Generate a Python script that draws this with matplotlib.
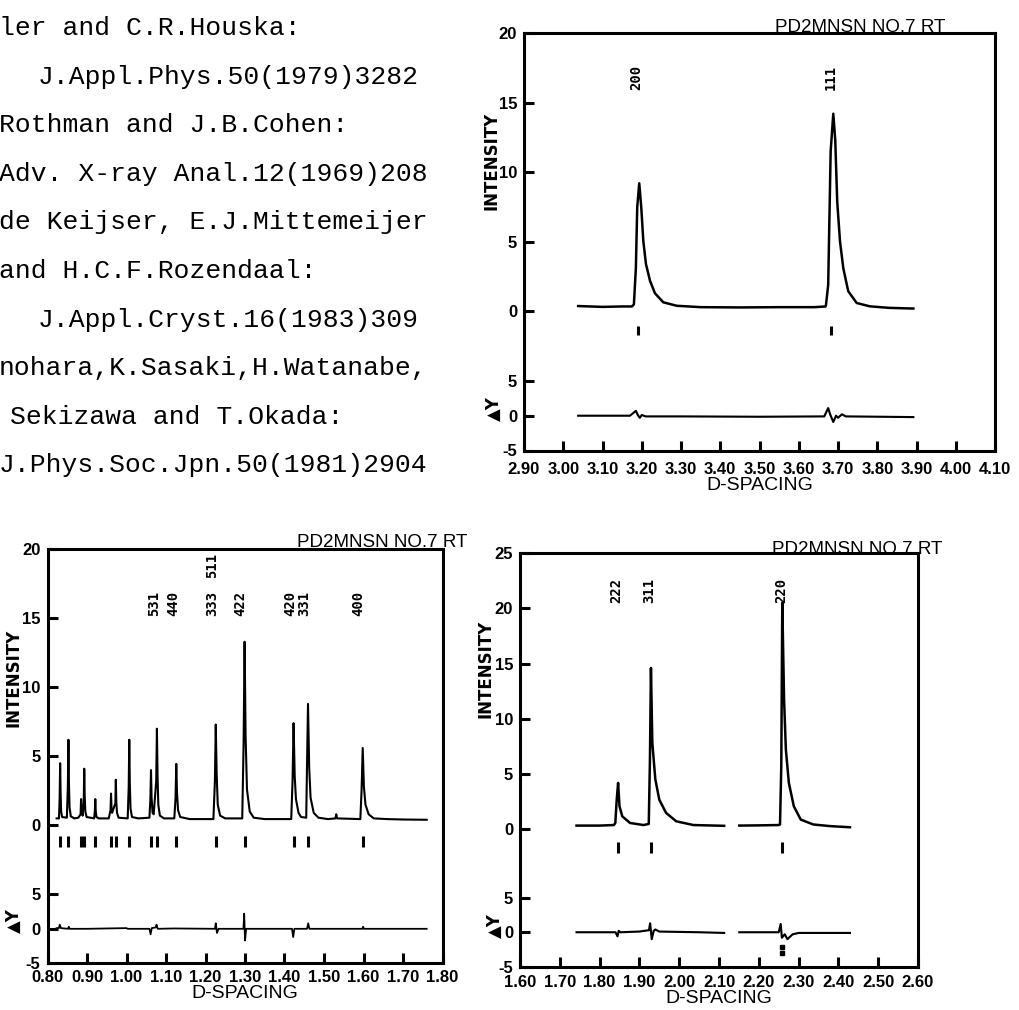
import matplotlib
matplotlib.use("Agg")
import matplotlib.pyplot as plt
from matplotlib import font_manager

# ---------------- data ----------------
ref_text = [
    "ler and C.R.Houska:",
    "J.Appl.Phys.50(1979)3282",
    "Rothman and J.B.Cohen:",
    "Adv. X-ray Anal.12(1969)208",
    "de Keijser, E.J.Mittemeijer",
    "and H.C.F.Rozendaal:",
    "J.Appl.Cryst.16(1983)309",
    "nohara,K.Sasaki,H.Watanabe,",
    "Sekizawa and T.Okada:",
    "J.Phys.Soc.Jpn.50(1981)2904",
]

title_text = "PD2MNSN NO.7 RT"

# --- panel A (top right): d 2.90-4.10 ---
a_xticks = [2.90, 3.00, 3.10, 3.20, 3.30, 3.40, 3.50, 3.60, 3.70, 3.80, 3.90, 4.00, 4.10]
a_obs = [(3.038, 0.38), (3.10, 0.32), (3.15, 0.35), (3.175, 0.35), (3.180, 0.5), (3.185, 3.1),
         (3.1885, 7.5), (3.1936, 9.2), (3.1987, 7.5), (3.204, 5.05), (3.2107, 3.4), (3.221, 2.2),
         (3.2336, 1.3), (3.2548, 0.65), (3.289, 0.4), (3.35, 0.3), (3.45, 0.28), (3.55, 0.3),
         (3.64, 0.3), (3.668, 0.35), (3.6694, 0.45), (3.675, 1.9), (3.6813, 11.5), (3.688, 14.2),
         (3.693, 12.3), (3.698, 7.9), (3.705, 5.05), (3.7135, 3.1), (3.726, 1.45), (3.7476, 0.6),
         (3.781, 0.36), (3.83, 0.25), (3.892, 0.2)]
a_diff = [(3.038, 0.0), (3.17, 0.0), (3.185, 0.7), (3.19, 0.1), (3.195, -0.3), (3.20, 0.1),
          (3.21, -0.1), (3.30, -0.1), (3.50, -0.15), (3.665, -0.1), (3.675, 1.1), (3.68, 0.2),
          (3.688, -0.9), (3.695, 0.0), (3.70, -0.3), (3.71, 0.2), (3.72, -0.1), (3.892, -0.2)]
a_refl = [3.1895, 3.682]
a_hkl = ["200", "111"]
a_hkl_x = [3.185, 3.681]
a_hkl_y = [16.8, 16.8]

# --- panel B (bottom left): d 0.80-1.80 ---
b_xticks = [0.80, 0.90, 1.00, 1.10, 1.20, 1.30, 1.40, 1.50, 1.60, 1.70, 1.80]
b_obs = [(0.823, 0.5), (0.829, 0.5), (0.8308, 2.0), (0.832, 4.5), (0.8332, 2.3), (0.8345, 1.0), (0.837, 0.6),
         (0.849, 0.55), (0.8515, 2.8), (0.853, 6.2), (0.8542, 3.2), (0.8558, 1.3), (0.859, 0.65),
         (0.868, 0.5), (0.878, 0.55), (0.8838, 0.8), (0.885, 1.9), (0.8862, 1.0), (0.889, 0.7),
         (0.8918, 1.8), (0.893, 4.1), (0.8942, 2.1), (0.8958, 1.0), (0.899, 0.6),
         (0.918, 0.5), (0.9198, 1.0), (0.921, 1.9), (0.9222, 1.0), (0.924, 0.6), (0.93, 0.5),
         (0.955, 0.5), (0.9596, 1.1), (0.9608, 2.3), (0.962, 1.3), (0.9635, 0.9), (0.9718, 1.6),
         (0.973, 3.3), (0.9742, 1.7), (0.976, 0.9), (0.98, 0.55),
         (1.003, 0.5), (1.0056, 2.8), (1.007, 6.2), (1.0084, 3.0), (1.0102, 1.2), (1.014, 0.6), (1.03, 0.5),
         (1.058, 0.55), (1.0605, 1.9), (1.062, 4.0), (1.0635, 2.0), (1.066, 0.9), (1.0688, 0.8),
         (1.0752, 3.2), (1.077, 7.0), (1.0786, 3.6), (1.0805, 1.5), (1.0845, 0.7), (1.095, 0.5),
         (1.121, 0.5), (1.1242, 2.0), (1.126, 4.45), (1.1278, 2.4), (1.1305, 1.1), (1.136, 0.6), (1.16, 0.45),
         (1.22, 0.45), (1.2238, 3.2), (1.226, 7.3), (1.2282, 3.8), (1.231, 1.5), (1.237, 0.7), (1.25, 0.5),
         (1.293, 0.5), (1.2965, 6.0), (1.299, 13.3), (1.3015, 6.5), (1.305, 2.6), (1.312, 1.0),
         (1.322, 0.55), (1.35, 0.45),
         (1.417, 0.45), (1.4205, 3.3), (1.423, 7.4), (1.4258, 3.6), (1.429, 1.9), (1.4355, 0.9), (1.442, 0.6),
         (1.455, 0.55), (1.4568, 4.0), (1.4595, 8.8), (1.4625, 4.2), (1.466, 2.0), (1.474, 0.9),
         (1.486, 0.55), (1.51, 0.45), (1.529, 0.5), (1.531, 0.8), (1.533, 0.5),
         (1.592, 0.45), (1.5952, 2.6), (1.598, 5.6), (1.601, 2.8), (1.605, 1.5), (1.613, 0.8),
         (1.626, 0.5), (1.66, 0.45), (1.70, 0.42), (1.76, 0.4)]
b_diff = [(0.823, 0.1), (0.829, 0.1), (0.831, 0.6), (0.834, 0.1), (0.852, 0.0), (0.854, 0.3),
          (0.856, 0.0), (0.90, 0.0), (0.95, 0.05), (1.00, 0.1), (1.003, 0.0), (1.058, 0.0),
          (1.061, -0.8), (1.064, 0.1), (1.074, 0.2), (1.076, 0.6), (1.079, 0.0), (1.12, 0.05),
          (1.224, 0.0), (1.226, 0.8), (1.229, -0.6), (1.233, 0.0), (1.296, 0.0), (1.298, 2.2),
          (1.300, -1.7), (1.303, 0.0), (1.419, 0.0), (1.422, -1.2), (1.425, 0.0), (1.457, 0.0),
          (1.460, 0.8), (1.463, 0.0), (1.52, 0.0), (1.597, 0.0), (1.599, 0.3), (1.601, 0.0),
          (1.70, 0.0), (1.76, 0.0)]
b_refl = [0.8324, 0.8527, 0.8848, 0.8932, 0.921, 0.9608, 0.9734, 1.0071, 1.062, 1.0772,
          1.126, 1.226, 1.299, 1.423, 1.4595, 1.598]
b_hkl = ["531", "440", "333", "511", "422", "420", "331", "400"]
b_hkl_x = [1.0686, 1.119, 1.2165, 1.2165, 1.288, 1.4147, 1.451, 1.586]
b_hkl_y = [16.05, 16.05, 16.05, 18.8, 16.05, 16.05, 16.05, 16.05]

# --- panel C (bottom right): d 1.60-2.60 ---
c_xticks = [1.60, 1.70, 1.80, 1.90, 2.00, 2.10, 2.20, 2.30, 2.40, 2.50, 2.60]
c_obs1 = [(1.742, 0.3), (1.80, 0.3), (1.836, 0.35), (1.8395, 0.54), (1.843, 2.65), (1.8465, 4.17),
          (1.850, 2.05), (1.857, 1.14), (1.8764, 0.54), (1.91, 0.35), (1.9235, 0.45), (1.9265, 6.3),
          (1.929, 14.6), (1.9325, 7.8), (1.940, 4.5), (1.950, 2.65), (1.967, 1.45), (1.9925, 0.69),
          (2.0355, 0.35), (2.113, 0.28)]
c_obs2 = [(2.151, 0.3), (2.20, 0.32), (2.25, 0.35), (2.2533, 0.4), (2.2565, 5.7), (2.259, 20.5),
          (2.2635, 11.7), (2.268, 7.2), (2.2755, 4.17), (2.288, 2.05), (2.3055, 0.84), (2.337, 0.4),
          (2.38, 0.25), (2.429, 0.15)]
c_diff1 = [(1.742, 0.0), (1.84, 0.0), (1.845, -0.6), (1.848, 0.2), (1.852, 0.0), (1.90, 0.1),
           (1.924, 0.3), (1.927, 1.3), (1.931, -1.0), (1.936, 0.2), (1.94, 0.4), (1.95, 0.1),
           (2.05, 0.0), (2.113, -0.1)]
c_diff2 = [(2.151, 0.0), (2.25, 0.0), (2.255, 1.2), (2.258, -0.8), (2.265, -0.3), (2.272, -1.0),
           (2.285, -0.3), (2.30, -0.1), (2.429, -0.1)]
c_diff_dots = [(2.259, -2.2), (2.259, -3.0)]
c_refl = [1.846, 1.929, 2.259]
c_hkl = ["222", "311", "220"]
c_hkl_x = [1.841, 1.924, 2.256]
c_hkl_y = [21.6, 21.6, 21.6]

# ---------------- styling ----------------
W, H = 1019, 1010
avail = {f.name for f in font_manager.fontManager.ttflist}
if "Liberation Sans Narrow" in avail:
    NARROW = "Liberation Sans Narrow"
elif "Liberation Sans" in avail:
    NARROW = "Liberation Sans"
else:
    NARROW = "DejaVu Sans"
MONO = "Liberation Mono" if "Liberation Mono" in avail else "DejaVu Sans Mono"

fig = plt.figure(figsize=(W / 100, H / 100), dpi=100)
fig.patch.set_facecolor("white")


def fx(px):
    return px / W


def fy(py):
    return 1 - py / H


# reference text block (top left)
text_x = [-1, 38, -1, -1, -1, -1, 38, -1, 10, -1]
for i, (line, x0) in enumerate(zip(ref_text, text_x)):
    fig.text(fx(x0), fy(35 + 48.6 * i), line, family=MONO, fontsize=19.0,
             ha="left", va="baseline", color="black")


def panel(rect, xlim, xticks, ymax, obs_list, diff_list, refl, hkl, hkl_x, hkl_y,
          refl_span, title_xy, int_xy, dy_xy, tickpad, lw=1.8, dots=None):
    ax = fig.add_axes(rect)
    ymin = -ymax / 2.0
    k = ymax / 40.0
    base = ymin + 5 * k
    ax.set_xlim(*xlim)
    ax.set_ylim(ymin, ymax)
    for obs in obs_list:
        d, v = zip(*obs)
        ax.plot(d, v, color="black", lw=lw, solid_joinstyle="round")
    for diff in diff_list:
        d, v = zip(*diff)
        ax.plot(d, [base + k * t for t in v], color="black", lw=lw * 0.85,
                solid_joinstyle="round")
    if dots:
        d, v = zip(*dots)
        ax.plot(d, [base + k * t for t in v], ls="none", marker="s", ms=2.2, color="black")
    ax.vlines(refl, refl_span[0], refl_span[1], color="black", lw=2.2)
    for lab, x, y in zip(hkl, hkl_x, hkl_y):
        ax.text(x, y, lab, rotation=90, ha="center", va="center",
                family="DejaVu Sans Mono", fontweight="bold", fontsize=10)
    for s in ax.spines.values():
        s.set_linewidth(2.2)
    ax.set_xticks(xticks)
    ax.set_xticklabels(["%.2f" % t for t in xticks])
    step = 5
    upper = list(range(int(ymax), -1, -step))
    yt = [float(u) for u in upper] + [ymin + 2 * 5 * k, base, ymin]
    ylab = [str(u) for u in upper] + ["5", "0", "-5"]
    ax.set_yticks(yt)
    ax.set_yticklabels(ylab)
    ax.tick_params(axis="both", direction="in", length=7, width=2.2,
                   top=False, right=False)
    ax.tick_params(axis="x", pad=tickpad)
    ax.tick_params(axis="y", pad=5)
    for t in ax.get_xticklabels() + ax.get_yticklabels():
        t.set_family(NARROW)
        t.set_fontweight("bold")
        t.set_fontsize(12)
    ax.set_xlabel("D-SPACING", family=NARROW, fontsize=14, labelpad=0)
    ax.text(int_xy[0], int_xy[1], "INTENSITY", rotation=90, ha="center", va="center",
            transform=ax.get_yaxis_transform(), family="DejaVu Sans",
            fontweight="bold", fontsize=12)
    ax.text(dy_xy[0], base + dy_xy[1], "\u25b2Y", rotation=90, ha="center", va="center",
            transform=ax.get_yaxis_transform(), family="DejaVu Sans",
            fontweight="bold", fontsize=12)
    fig.text(fx(title_xy[0]), fy(title_xy[1]), title_text, ha="right", va="baseline",
             family=NARROW, fontsize=13.5)
    return ax


panel([fx(524), fy(450.5), 471 / W, 417.5 / H], (2.90, 4.10), a_xticks, 20,
      [a_obs], [a_diff], a_refl, a_hkl, a_hkl_x, a_hkl_y, (-1.7, -1.05),
      (945, 32), (-0.07, 10.8), (-0.064, 0.5), tickpad=8)

panel([fx(47.5), fy(963.3), 395 / W, 414 / H], (0.80, 1.80), b_xticks, 20,
      [b_obs], [b_diff], b_refl, b_hkl, b_hkl_x, b_hkl_y, (-1.6, -0.8),
      (467, 547), (-0.086, 10.7), (-0.086, 0.6), tickpad=5, lw=1.5)

panel([fx(520), fy(966.7), 398 / W, 413.4 / H], (1.60, 2.60), c_xticks, 25,
      [c_obs1, c_obs2], [c_diff1, c_diff2], c_refl, c_hkl, c_hkl_x, c_hkl_y, (-2.15, -1.15),
      (942, 554), (-0.086, 14.5), (-0.064, 0.6), tickpad=6, dots=c_diff_dots)

fig.savefig("out.png", dpi=100, facecolor="white")
